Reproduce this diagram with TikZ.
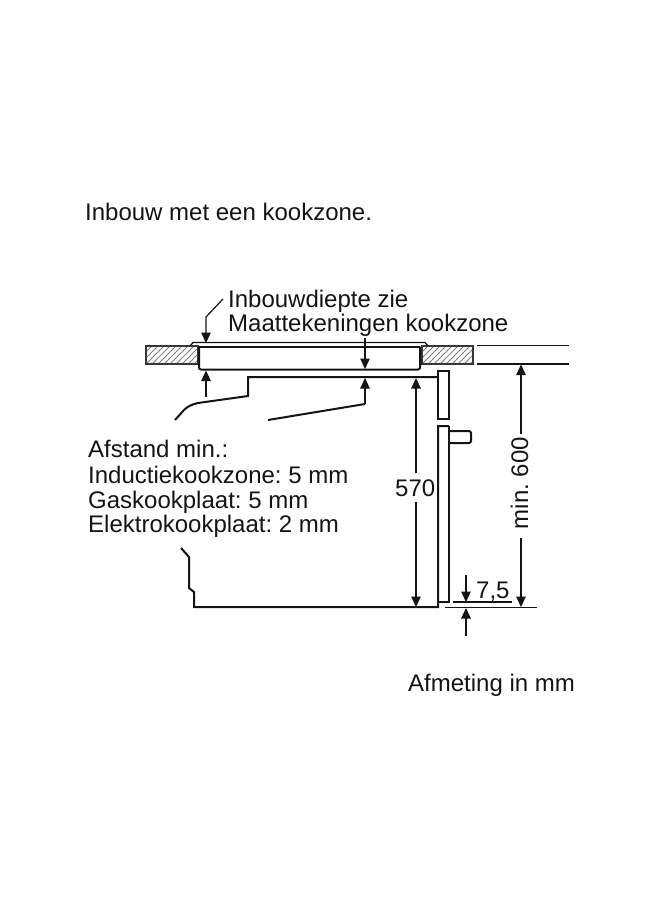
\documentclass[tikz,border=0pt]{standalone}
\usepackage{fontspec}
\setmainfont{Liberation Sans}
\usetikzlibrary{arrows.meta}
\definecolor{ink}{HTML}{141414}
\tikzset{x=1pt,y=-1pt,
 thick line/.style={draw=ink,line width=2pt,line join=miter},
 thin line/.style={draw=ink,line width=1.2pt},
 lip line/.style={draw=ink,line width=1.3pt},
 dim line/.style={draw=ink,line width=1.2pt,-{Triangle[length=10.5pt,width=9.5pt]}},
 lab/.style={text=ink,font=\fontsize{24}{29}\selectfont\frenchspacing,inner sep=0pt,anchor=base west,align=left},
 hatchbox/.style={draw=ink!85,line width=1.2pt},
 hatchline/.style={draw=ink!55,line width=0.9pt}}
\begin{document}
\begin{tikzpicture}
\useasboundingbox (0,0) rectangle (660,900);
\node[lab] (title) at (85,220) {Inbouw met een kookzone.};
\node[lab] (depth1) at (228,307) {Inbouwdiepte zie};
\node[lab] (depth2) at (228,331) {Maattekeningen kookzone};
\node[lab] (dist1) at (88,457) {Afstand min.:};
\node[lab] (dist2) at (88,483) {Inductiekookzone: 5 mm};
\node[lab] (dist3) at (88,508) {Gaskookplaat: 5 mm};
\node[lab] (dist4) at (88,532) {Elektrokookplaat: 2 mm};
\node[lab] (d570) at (395,496) {570};
\node[lab,rotate=90,anchor=base] (d600) at (528,483) {min. 600};
\node[lab] (d75) at (476,598) {7,5};
\node[lab] (unit) at (408,691) {Afmeting in mm};
\begin{scope}
\clip (146,346) rectangle (198,364);
\foreach \k in {0,6,...,84} \draw[hatchline] (146+\k-18,364) -- (146+\k,346);
\end{scope}
\begin{scope}
\clip (422,346) rectangle (473,364);
\foreach \k in {0,6,...,84} \draw[hatchline] (422+\k-18,364) -- (422+\k,346);
\end{scope}
\draw[hatchbox] (146,346) rectangle (198,364);
\draw[hatchbox] (422,346) rectangle (473,364);
\draw[lip line] (190,346) -- (193,342.5) -- (425,342.5) -- (428,346);
\draw[thick line] (199,346.5) -- (420,346.5);
\draw[thick line,rounded corners=2pt] (199,346.5) -- (199,369.5) -- (420,369.5) -- (420,346.5);
\draw[thick line] (175,420) -- (184,410) .. controls (188,406) and (192,404.5) .. (198,403) -- (248,396) -- (248,377) -- (438,377);
\draw[thick line] (268,420) -- (365,404);
\draw[thick line] (438,371) rectangle (449,419);
\draw[thick line] (449,426) -- (438,426) -- (438,607) -- (194,607) -- (194,592) -- (189,588) -- (189,557) -- (181,548);
\draw[thick line] (449,426) -- (449,602) -- (438,602);
\draw[thick line,rounded corners=2pt] (449,431) -- (471,431) -- (471,443) -- (449,443);
\draw[thin line] (477,345.5) -- (569,345.5);
\draw[thin line] (477,364) -- (569,364);
\draw[thin line] (453,602) -- (512,602);
\draw[thin line] (445,607.5) -- (537,607.5);
\coordinate (lead0) at (223,299);
\coordinate (lead1) at (206,317);
\coordinate (lead2) at (206,343);
\draw[dim line] (lead0) -- (lead1) -- (lead2);
\draw[dim line] (206,397) -- (206,370.5);
\draw[dim line] (365,338) -- (365,369);
\draw[dim line] (365,404) -- (365,378);
\draw[dim line] (416,473) -- (416,378);
\draw[dim line] (416,502) -- (416,607);
\draw[dim line] (521,434) -- (521,364.5);
\draw[dim line] (521,538) -- (521,607);
\draw[dim line] (466,575) -- (466,602);
\draw[dim line] (466,636) -- (466,608);
\end{tikzpicture}
\end{document}
